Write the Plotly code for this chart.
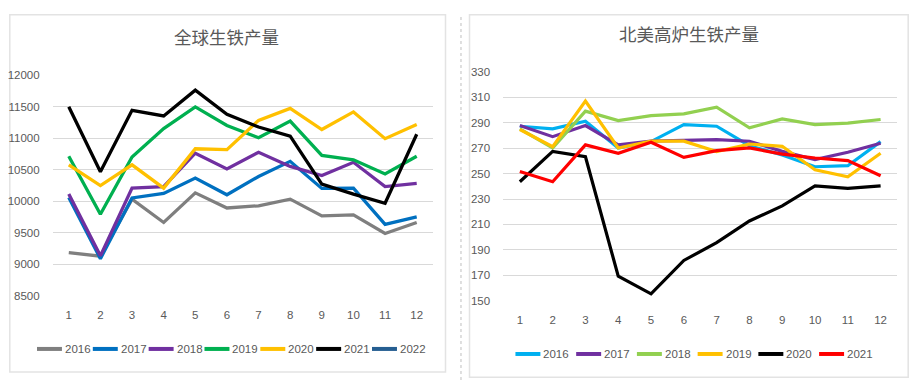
import plotly.graph_objects as go

# ---------------- data ----------------
months = list(range(1, 13))
month_labels = [str(m) for m in months]

global_years = ["2016", "2017", "2018", "2019", "2020", "2021", "2022"]
global_2016 = [9180, 9125, 10030, 9660, 10130, 9890, 9925, 10030, 9765, 9780, 9485, 9660]
global_2017 = [10055, 9085, 10050, 10120, 10365, 10100, 10390, 10630, 10200, 10205, 9630, 9750]
global_2018 = [10110, 9130, 10205, 10230, 10760, 10510, 10775, 10550, 10405, 10615, 10230, 10280]
global_2019 = [10710, 9790, 10700, 11150, 11495, 11200, 11005, 11270, 10725, 10655, 10430, 10710]
global_2020 = [10575, 10245, 10575, 10205, 10830, 10815, 11280, 11470, 11135, 11415, 10990, 11215]
global_2021 = [11495, 10465, 11440, 11350, 11760, 11375, 11175, 11030, 10270, 10110, 9965, 11060]
global_2022 = []
global_values = [global_2016, global_2017, global_2018, global_2019, global_2020, global_2021, global_2022]
global_colors = ["#7F7F7F", "#0070C0", "#7030A0", "#00B050", "#FFC000", "#000000", "#255E91"]
global_ticks = [8500, 9000, 9500, 10000, 10500, 11000, 11500, 12000]

na_years = ["2016", "2017", "2018", "2019", "2020", "2021"]
na_2016 = [287.3, 285.2, 291.3, 270.2, 275.2, 288.6, 287.3, 272.0, 264.6, 255.4, 256.2, 275.2]
na_2017 = [287.8, 279.1, 287.8, 272.6, 275.5, 276.0, 276.8, 275.5, 267.5, 261.0, 266.8, 273.9]
na_2018 = [285.2, 270.2, 299.2, 291.8, 295.7, 297.1, 302.3, 286.0, 293.1, 288.6, 289.7, 292.6]
na_2019 = [284.7, 271.2, 307.1, 270.2, 275.5, 275.5, 267.3, 273.3, 271.5, 253.0, 247.5, 266.0]
na_2020 = [243.6, 267.5, 263.3, 169.2, 155.3, 181.6, 195.6, 212.7, 224.6, 240.4, 238.3, 240.4]
na_2021 = [251.7, 243.6, 272.6, 266.0, 274.7, 262.8, 268.1, 270.2, 265.4, 262.3, 260.2, 248.3]
na_values = [na_2016, na_2017, na_2018, na_2019, na_2020, na_2021]
na_colors = ["#00B0F0", "#7030A0", "#92D050", "#FFC000", "#000000", "#FF0000"]
na_ticks = [150, 170, 190, 210, 230, 250, 270, 290, 310, 330]

title_left = "全球生铁产量"
title_right = "北美高炉生铁产量"

# ---------------- layout helpers ----------------
# target positions are given in screenshot pixels; convert to figure paper coords
OFF_X = 8
Y_SCALE, Y_OFF = 0.962, 14.4
W, H = 917 - 2 * OFF_X, 384
def px(x):
    return (x - OFF_X) / W
def py(y):
    return 1 - ((y - Y_OFF) / Y_SCALE) / H

TXT = "#595959"
GRID = "#D9D9D9"
NUM_FONT = "'Liberation Sans', Arial, sans-serif"
CJK_FONT = "'Noto Sans CJK SC', sans-serif"

fig = go.Figure()

for name, vals, col in zip(global_years, global_values, global_colors):
    fig.add_trace(go.Scatter(
        x=months[:len(vals)], y=vals, mode="lines", name=name,
        line=dict(color=col, width=3.3), xaxis="x", yaxis="y", showlegend=False,
    ))

for name, vals, col in zip(na_years, na_values, na_colors):
    fig.add_trace(go.Scatter(
        x=months[:len(vals)], y=vals, mode="lines", name=name,
        line=dict(color=col, width=3.2), xaxis="x2", yaxis="y2", showlegend=False,
    ))

def xaxis_cfg(domain, anchor):
    return dict(
        domain=domain, anchor=anchor, range=[0.5, 12.5],
        tickvals=months, ticktext=month_labels,
        showgrid=False, zeroline=False, showline=False,
        ticks="outside", ticklen=9, tickcolor="rgba(0,0,0,0)",
        tickfont=dict(family=NUM_FONT, size=11.5, color=TXT),
        fixedrange=True,
    )

def yaxis_cfg(domain, anchor, rng, ticks):
    return dict(
        domain=domain, anchor=anchor, range=rng,
        tickvals=ticks, ticktext=[str(t) for t in ticks],
        showgrid=True, gridcolor=GRID, gridwidth=1,
        zeroline=False, showline=False,
        ticks="outside", ticklen=10, tickcolor="rgba(0,0,0,0)",
        tickfont=dict(family=NUM_FONT, size=11.5, color=TXT),
        fixedrange=True,
    )

top_edge = 1 - 0.8 / H
shapes = [
    # panel frames
    dict(type="rect", xref="paper", yref="paper",
         x0=px(8.8), x1=px(445), y0=py(370), y1=top_edge,
         line=dict(color="#E3E3E3", width=1.5), fillcolor="rgba(0,0,0,0)", layer="below"),
    dict(type="rect", xref="paper", yref="paper",
         x0=px(469), x1=px(908.2), y0=py(375), y1=top_edge,
         line=dict(color="#E3E3E3", width=1.5), fillcolor="rgba(0,0,0,0)", layer="below"),
    # dashed separator
    dict(type="line", xref="paper", yref="paper",
         x0=px(460.5), x1=px(460.5), y0=0, y1=1,
         line=dict(color="#BFBFBF", width=1, dash="dot")),
]

annotations = [
    dict(text=title_left, xref="paper", yref="paper", x=px(226), y=py(37),
         xanchor="center", yanchor="middle", showarrow=False,
         font=dict(family=CJK_FONT, size=17.5, color=TXT)),
    dict(text=title_right, xref="paper", yref="paper", x=px(689), y=py(34),
         xanchor="center", yanchor="middle", showarrow=False,
         font=dict(family=CJK_FONT, size=17.5, color=TXT)),
]

# custom compact legends (Excel style)
def add_legend(names, colors, x_start, step, y):
    for i, (n, c) in enumerate(zip(names, colors)):
        x0 = x_start + i * step
        shapes.append(dict(type="line", xref="paper", yref="paper",
                           x0=px(x0), x1=px(x0 + 25), y0=py(y), y1=py(y),
                           line=dict(color=c, width=4)))
        annotations.append(dict(text=n, xref="paper", yref="paper",
                                x=px(x0 + 26), y=py(y), xanchor="left", yanchor="middle",
                                showarrow=False,
                                font=dict(family=NUM_FONT, size=11.5, color=TXT)))

add_legend(global_years, global_colors, 36, 55.9, 347)
add_legend(na_years, na_colors, 515, 60.8, 352)

fig.update_layout(
    width=W, height=H,
    margin=dict(l=0, r=0, t=0, b=0),
    paper_bgcolor="white", plot_bgcolor="white",
    xaxis=xaxis_cfg([px(52), px(432)], "y"),
    yaxis=yaxis_cfg([py(294), py(75)], "x", [8500, 12000], global_ticks),
    xaxis2=xaxis_cfg([px(503), px(897)], "y2"),
    yaxis2=yaxis_cfg([py(299), py(72)], "x2", [150, 330], na_ticks),
    shapes=shapes,
    annotations=annotations,
    showlegend=False,
)

fig.write_html("out.html")
